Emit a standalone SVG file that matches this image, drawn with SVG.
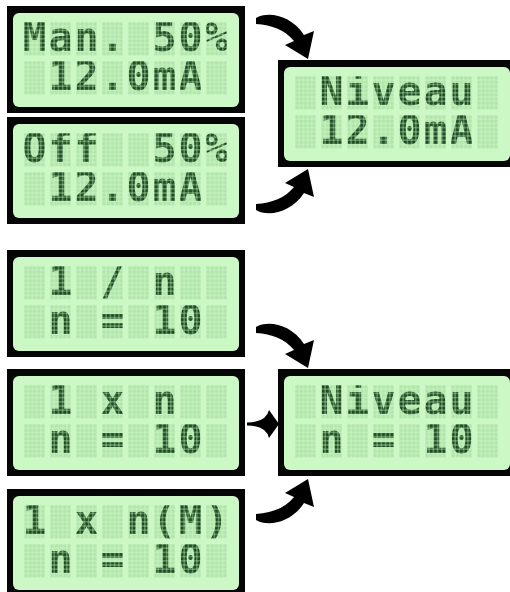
<svg xmlns="http://www.w3.org/2000/svg" xmlns:xlink="http://www.w3.org/1999/xlink" width="510" height="592" viewBox="0 0 510 592" xml:space="preserve">
  <style>
    .bezel { fill: #050505; }
    .glass { fill: #ccf8c5; }
    .lcd { font-family: "DejaVu Sans Mono", "Liberation Mono", monospace; font-weight: bold; font-size: 40px; fill: #1f4d24; text-anchor: middle; white-space: pre; }
    .arrow { fill: #000; }
  </style>
  <defs>
    <!-- one 5x8 dot cell; pattern tiles start at each cell's corner -->
    <pattern id="unlitDots" patternUnits="objectBoundingBox" width="0.2" height="0.125">
      <rect x="0.35" y="0.35" width="3.5" height="3.5" fill="#b2e5ab"/>
    </pattern>
    <pattern id="litDots" patternUnits="objectBoundingBox" width="0.2" height="0.125">
      <rect x="0.3" y="0.3" width="3.6" height="3.6" fill="#fff"/>
    </pattern>
    <!-- 2 rows x 8 character cells, in display-local coordinates -->
    <g id="cells">
      <rect x="17" y="16" width="21" height="33.6"/><rect x="43" y="16" width="21" height="33.6"/>
      <rect x="69" y="16" width="21" height="33.6"/><rect x="95" y="16" width="21" height="33.6"/>
      <rect x="121" y="16" width="21" height="33.6"/><rect x="147" y="16" width="21" height="33.6"/>
      <rect x="173" y="16" width="21" height="33.6"/><rect x="199" y="16" width="21" height="33.6"/>
      <rect x="17" y="55" width="21" height="33.6"/><rect x="43" y="55" width="21" height="33.6"/>
      <rect x="69" y="55" width="21" height="33.6"/><rect x="95" y="55" width="21" height="33.6"/>
      <rect x="121" y="55" width="21" height="33.6"/><rect x="147" y="55" width="21" height="33.6"/>
      <rect x="173" y="55" width="21" height="33.6"/><rect x="199" y="55" width="21" height="33.6"/>
    </g>
    <mask id="dotMask" maskUnits="userSpaceOnUse" x="0" y="0" width="238" height="107">
      <use xlink:href="#cells" fill="url(#litDots)"/>
    </mask>
    <!-- empty display: bezel, glass and the unlit dot grid -->
    <g id="panel">
      <rect class="bezel" x="0" y="0" width="238" height="107"/>
      <rect class="glass" x="6" y="7" width="226" height="94" rx="6"/>
      <use xlink:href="#cells" fill="url(#unlitDots)"/>
    </g>
    <!-- swept arrow curving right and down onto the target display -->
    <path id="curveArrow" d="M256,18 C268,11 291,15 304,35 L314,31 L308,59 L285,45 L294,41 C285,30 272,25 256,24 Z"/>
  </defs>

  <g id="display-manual" transform="translate(7,6)">
    <use xlink:href="#panel"/>
    <g mask="url(#dotMask)">
      <text class="lcd" x="27.5 53.5 79.5 105.5 131.5 157.5 183.5 209.5" y="45.4">Man. 50%</text>
      <text class="lcd" x="27.5 53.5 79.5 105.5 131.5 157.5 183.5 209.5" y="84.4"> 12.0mA </text>
    </g>
  </g>

  <g id="display-off" transform="translate(7,117)">
    <use xlink:href="#panel"/>
    <g mask="url(#dotMask)">
      <text class="lcd" x="27.5 53.5 79.5 105.5 131.5 157.5 183.5 209.5" y="45.4">Off  50%</text>
      <text class="lcd" x="27.5 53.5 79.5 105.5 131.5 157.5 183.5 209.5" y="84.4"> 12.0mA </text>
    </g>
  </g>

  <g id="display-level-current" transform="translate(278,60)">
    <use xlink:href="#panel"/>
    <g mask="url(#dotMask)">
      <text class="lcd" x="27.5 53.5 79.5 105.5 131.5 157.5 183.5 209.5" y="45.4"> Niveau </text>
      <text class="lcd" x="27.5 53.5 79.5 105.5 131.5 157.5 183.5 209.5" y="84.4"> 12.0mA </text>
    </g>
  </g>

  <g id="display-div-n" transform="translate(7,250)">
    <use xlink:href="#panel"/>
    <g mask="url(#dotMask)">
      <text class="lcd" x="27.5 53.5 79.5 105.5 131.5 157.5 183.5 209.5" y="45.4"> 1 / n  </text>
      <text class="lcd" x="27.5 53.5 79.5 105.5 131.5 157.5 183.5 209.5" y="84.4"> n = 10 </text>
    </g>
  </g>

  <g id="display-mul-n" transform="translate(7,369)">
    <use xlink:href="#panel"/>
    <g mask="url(#dotMask)">
      <text class="lcd" x="27.5 53.5 79.5 105.5 131.5 157.5 183.5 209.5" y="45.4"> 1 x n  </text>
      <text class="lcd" x="27.5 53.5 79.5 105.5 131.5 157.5 183.5 209.5" y="84.4"> n = 10 </text>
    </g>
  </g>

  <g id="display-mul-nm" transform="translate(7,489)">
    <use xlink:href="#panel"/>
    <g mask="url(#dotMask)">
      <text class="lcd" x="27.5 53.5 79.5 105.5 131.5 157.5 183.5 209.5" y="45.4">1 x n(M)</text>
      <text class="lcd" x="27.5 53.5 79.5 105.5 131.5 157.5 183.5 209.5" y="84.4"> n = 10 </text>
    </g>
  </g>

  <g id="display-level-n" transform="translate(278,369)">
    <use xlink:href="#panel"/>
    <g mask="url(#dotMask)">
      <text class="lcd" x="27.5 53.5 79.5 105.5 131.5 157.5 183.5 209.5" y="45.4"> Niveau </text>
      <text class="lcd" x="27.5 53.5 79.5 105.5 131.5 157.5 183.5 209.5" y="84.4"> n = 10 </text>
    </g>
  </g>

  <g id="connectors" class="arrow">
    <use xlink:href="#curveArrow"/>
    <use xlink:href="#curveArrow" transform="matrix(1,0,0,-1,0,228)"/>
    <use xlink:href="#curveArrow" transform="translate(0,309)"/>
    <use xlink:href="#curveArrow" transform="matrix(1,0,0,-1,0,538)"/>
    <path d="M247,422.5 Q266,422.5 269,410 L279,424 L269,438 Q266,425.5 247,425.5 Z"/>
  </g>
</svg>
